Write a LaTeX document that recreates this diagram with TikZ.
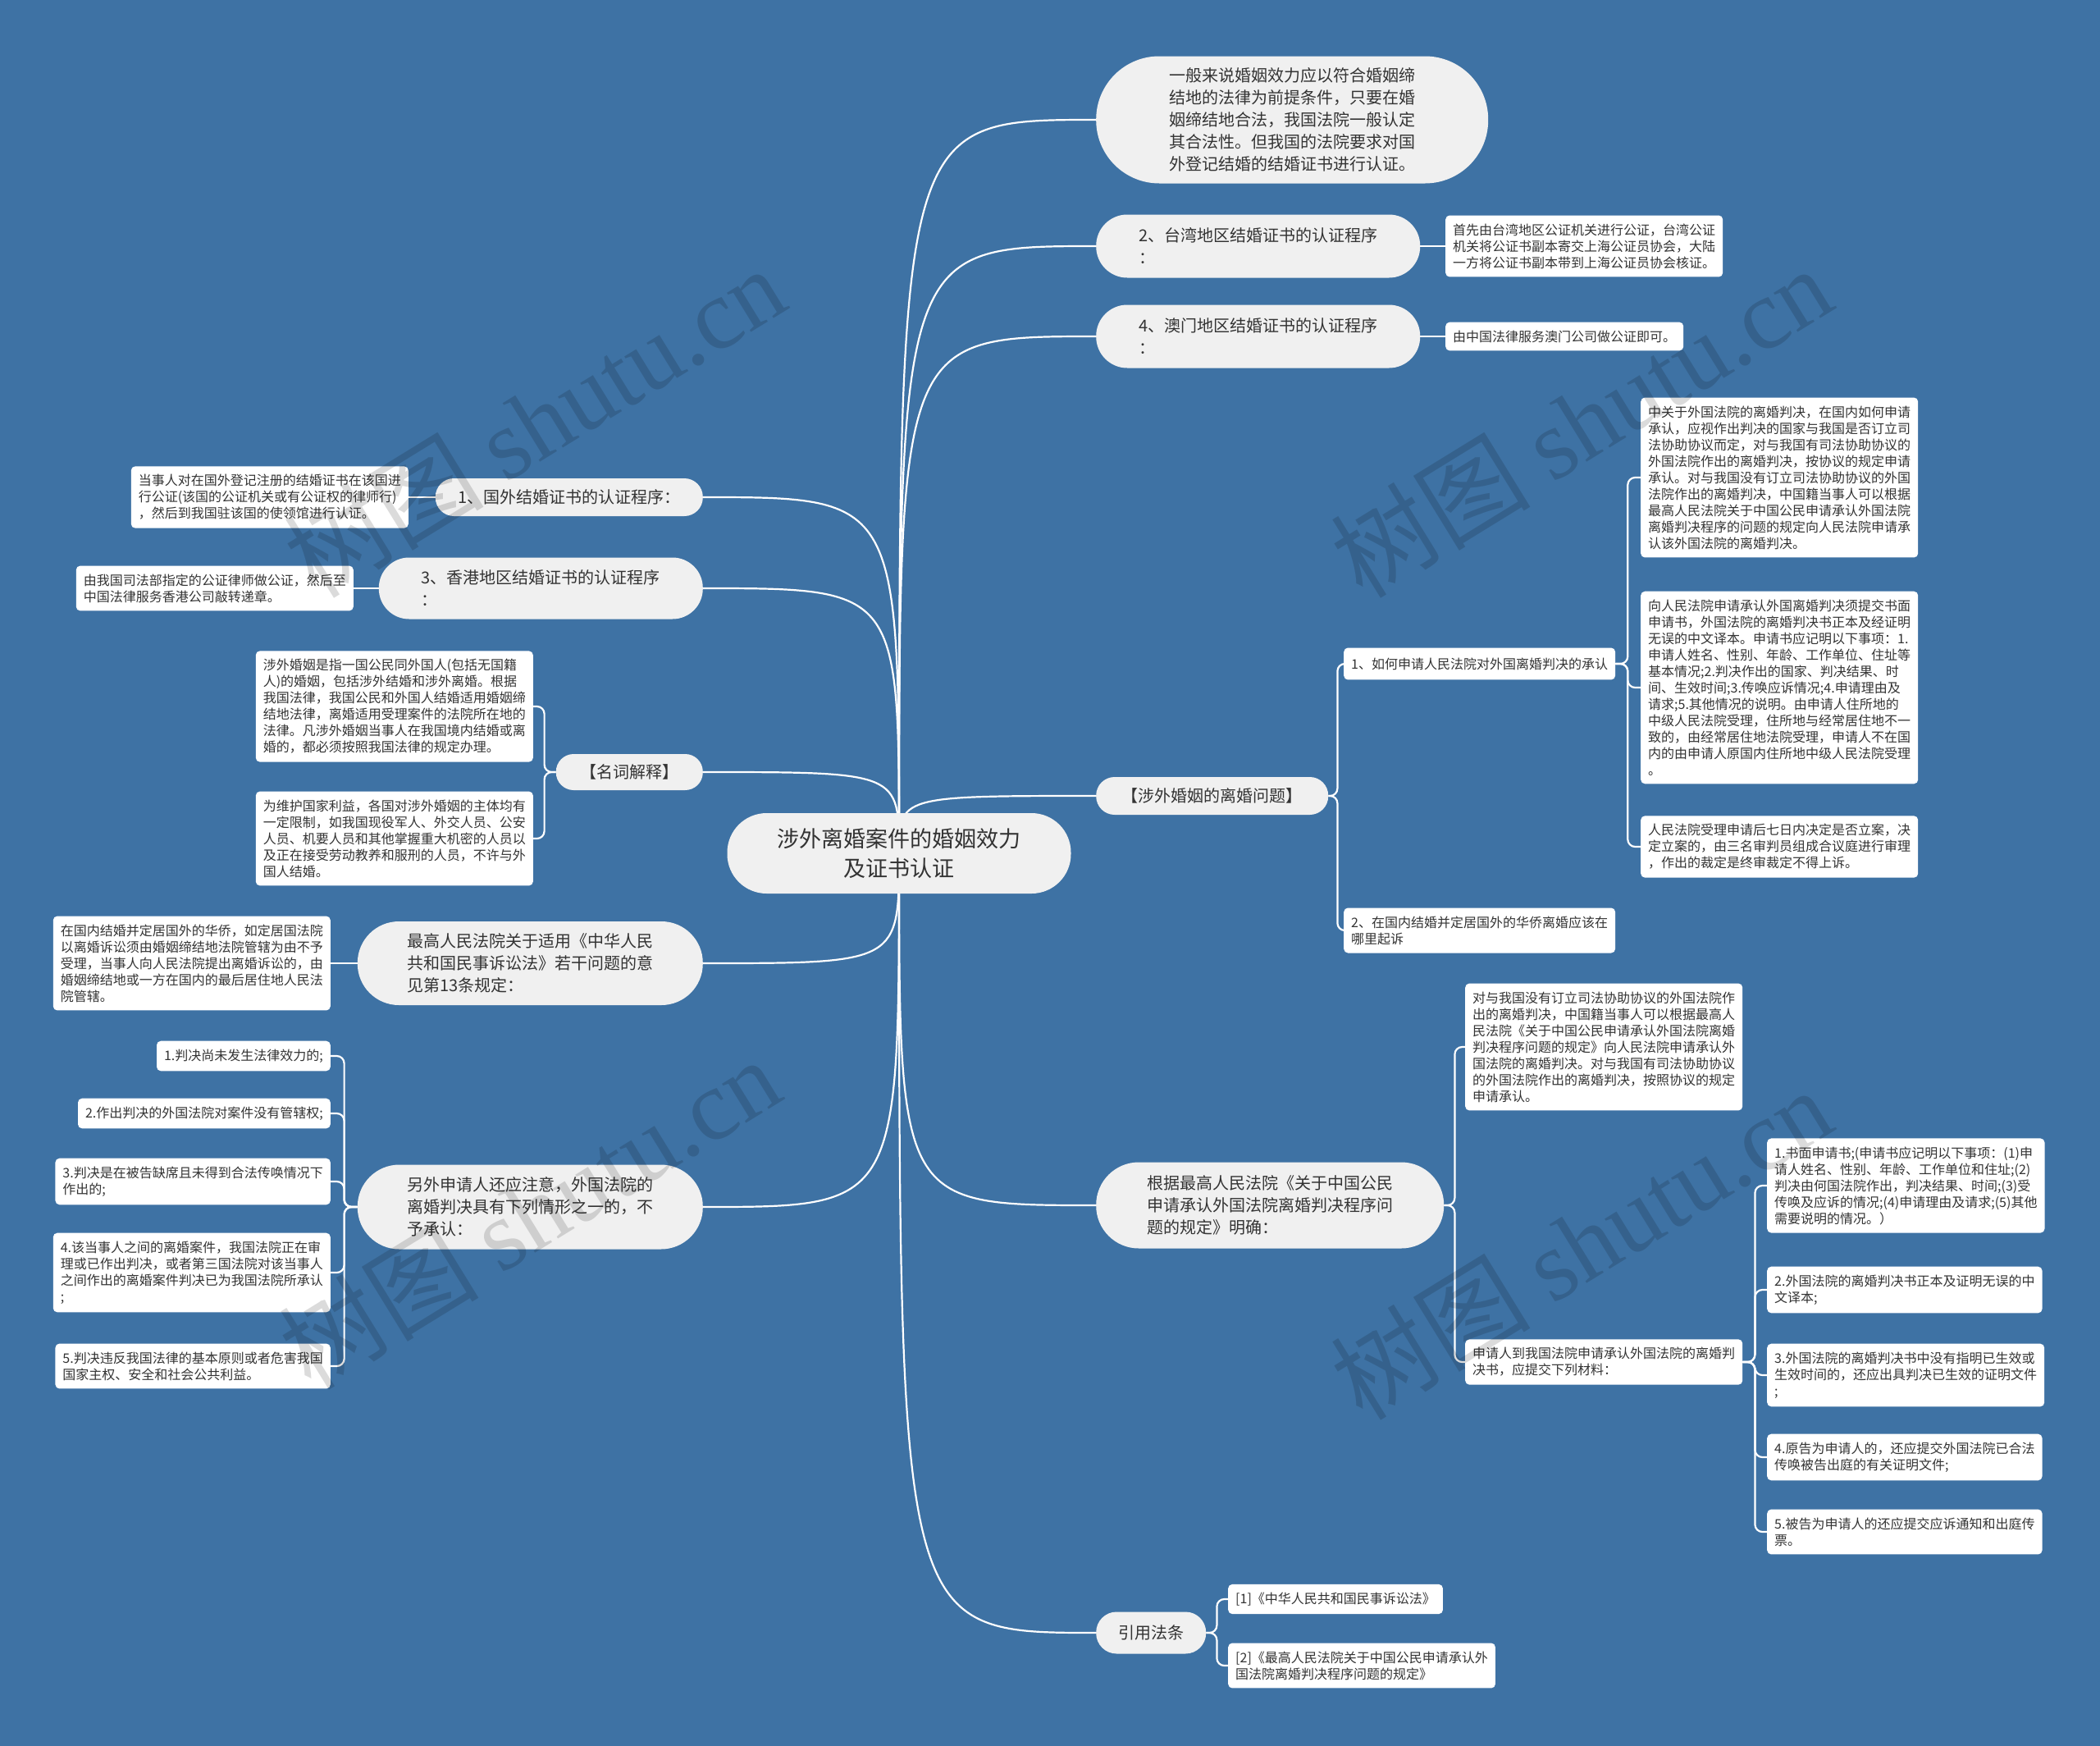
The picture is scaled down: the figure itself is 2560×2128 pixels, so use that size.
\documentclass[tikz,border=0pt]{standalone}
\usepackage{fontspec}
\setmainfont{Noto Sans CJK SC}
\newfontfamily\wmserif{Liberation Serif}
\newfontfamily\wmcjk{Noto Sans CJK SC}
\definecolor{bgblue}{HTML}{3E72A4}
\definecolor{pillgray}{HTML}{F0F0F0}
\definecolor{txt}{HTML}{333333}
\pgfdeclarelayer{bg}
\pgfsetlayers{bg,main}
\tikzset{
  rootnode/.style={fill=pillgray, text=txt, align=center, font={\fontsize{27}{36}\selectfont},
    minimum width=419, minimum height=98, rounded corners=48, inner sep=0},
  pill/.style n args={2}{fill=pillgray, text=txt, align=left, font={\fontsize{20}{27}\selectfont},
    minimum width=#1, minimum height=#2, rounded corners=#2/2-0.5, inner sep=0},
  leaf/.style={fill=white, text=txt, align=left, font={\fontsize{16}{20}\selectfont},
    rounded corners=5, inner xsep=9, inner ysep=10},
  conn/.style={draw=white, line width=2.2pt},
  brk/.style={draw=white, line width=2.2pt, rounded corners=9},
  wm/.style={text=black, text opacity=0.14, rotate=31.6, font={\fontsize{122}{122}\selectfont}, inner sep=0}
}
\begin{document}
\begin{tikzpicture}[x=1pt,y=-1pt]
\useasboundingbox (0,0) rectangle (2560,2128);
\begin{pgfonlayer}{bg}
\fill[bgblue] (0,0) rectangle (2560,2128);
\end{pgfonlayer}

% root
\node[rootnode] (root) at (1096,1040) {涉外离婚案件的婚姻效力\\及证书认证};

% right branches
\node[pill={478}{155}, anchor=west] (r1) at (1336,146) {一般来说婚姻效力应以符合婚姻缔\\结地的法律为前提条件，只要在婚\\姻缔结地合法，我国法院一般认定\\其合法性。但我国的法院要求对国\\外登记结婚的结婚证书进行认证。};
\node[pill={395}{77}, anchor=west] (r2) at (1336,300) {2、台湾地区结婚证书的认证程序\\：};
\node[pill={395}{77}, anchor=west] (r3) at (1336,410) {4、澳门地区结婚证书的认证程序\\：};
\node[pill={283}{46}, anchor=west] (r4) at (1336,970) {【涉外婚姻的离婚问题】};
\node[pill={424}{105}, anchor=west] (r5) at (1336,1469) {根据最高人民法院《关于中国公民\\申请承认外国法院离婚判决程序问\\题的规定》明确：};
\node[pill={134}{51}, anchor=west] (r6) at (1336,1990) {引用法条};

% left branches
\node[pill={326}{46}, anchor=east] (l1) at (857,606) {1、国外结婚证书的认证程序：};
\node[pill={395}{75}, anchor=east] (l2) at (857,717) {3、香港地区结婚证书的认证程序\\：};
\node[pill={179}{44}, anchor=east] (l3) at (857,941) {【名词解释】};
\node[pill={421}{102}, anchor=east] (l4) at (857,1174) {最高人民法院关于适用《中华人民\\共和国民事诉讼法》若干问题的意\\见第13条规定：};
\node[pill={421}{103}, anchor=east] (l5) at (857,1471) {另外申请人还应注意，外国法院的\\离婚判决具有下列情形之一的，不\\予承认：};

% right leaves
\node[leaf, anchor=west] (r2a) at (1762,300) {首先由台湾地区公证机关进行公证，台湾公证\\机关将公证书副本寄交上海公证员协会，大陆\\一方将公证书副本带到上海公证员协会核证。};
\node[leaf, anchor=west] (r3a) at (1762,410) {由中国法律服务澳门公司做公证即可。};
\node[leaf, anchor=west, inner ysep=12] (q1) at (1638,809) {1、如何申请人民法院对外国离婚判决的承认};
\node[leaf, anchor=west] (q2) at (1638,1134) {2、在国内结婚并定居国外的华侨离婚应该在\\哪里起诉};
\node[leaf, anchor=west] (q1a) at (2000,582) {中关于外国法院的离婚判决，在国内如何申请\\承认，应视作出判决的国家与我国是否订立司\\法协助协议而定，对与我国有司法协助协议的\\外国法院作出的离婚判决，按协议的规定申请\\承认。对与我国没有订立司法协助协议的外国\\法院作出的离婚判决，中国籍当事人可以根据\\最高人民法院关于中国公民申请承认外国法院\\离婚判决程序的问题的规定向人民法院申请承\\认该外国法院的离婚判决。};
\node[leaf, anchor=west] (q1b) at (2000,838) {向人民法院申请承认外国离婚判决须提交书面\\申请书，外国法院的离婚判决书正本及经证明\\无误的中文译本。申请书应记明以下事项：1.\\申请人姓名、性别、年龄、工作单位、住址等\\基本情况;2.判决作出的国家、判决结果、时\\间、生效时间;3.传唤应诉情况;4.申请理由及\\请求;5.其他情况的说明。由申请人住所地的\\中级人民法院受理，住所地与经常居住地不一\\致的，由经常居住地法院受理，申请人不在国\\内的由申请人原国内住所地中级人民法院受理\\。};
\node[leaf, anchor=west] (q1c) at (2000,1032) {人民法院受理申请后七日内决定是否立案，决\\定立案的，由三名审判员组成合议庭进行审理\\，作出的裁定是终审裁定不得上诉。};
\node[leaf, anchor=west] (r5a) at (1786,1276) {对与我国没有订立司法协助协议的外国法院作\\出的离婚判决，中国籍当事人可以根据最高人\\民法院《关于中国公民申请承认外国法院离婚\\判决程序问题的规定》向人民法院申请承认外\\国法院的离婚判决。对与我国有司法协助协议\\的外国法院作出的离婚判决，按照协议的规定\\申请承认。};
\node[leaf, anchor=west] (r5b) at (1786,1660) {申请人到我国法院申请承认外国法院的离婚判\\决书，应提交下列材料：};
\node[leaf, anchor=west] (e1) at (2154,1445) {1.书面申请书;(申请书应记明以下事项：(1)申\\请人姓名、性别、年龄、工作单位和住址;(2)\\判决由何国法院作出，判决结果、时间;(3)受\\传唤及应诉的情况;(4)申请理由及请求;(5)其他\\需要说明的情况。）};
\node[leaf, anchor=west] (e2) at (2154,1572) {2.外国法院的离婚判决书正本及证明无误的中\\文译本;};
\node[leaf, anchor=west] (e3) at (2154,1676) {3.外国法院的离婚判决书中没有指明已生效或\\生效时间的，还应出具判决已生效的证明文件\\;};
\node[leaf, anchor=west] (e4) at (2154,1776) {4.原告为申请人的，还应提交外国法院已合法\\传唤被告出庭的有关证明文件;};
\node[leaf, anchor=west] (e5) at (2154,1867) {5.被告为申请人的还应提交应诉通知和出庭传\\票。};
\node[leaf, anchor=west] (r6a) at (1497,1949) {[1]《中华人民共和国民事诉讼法》};
\node[leaf, anchor=west] (r6b) at (1497,2030) {[2]《最高人民法院关于中国公民申请承认外\\国法院离婚判决程序问题的规定》};

% left leaves
\node[leaf, anchor=east] (l1a) at (498,606) {当事人对在国外登记注册的结婚证书在该国进\\行公证(该国的公证机关或有公证权的律师行)\\，然后到我国驻该国的使领馆进行认证。};
\node[leaf, anchor=east] (l2a) at (431,717) {由我国司法部指定的公证律师做公证，然后至\\中国法律服务香港公司敲转递章。};
\node[leaf, anchor=east] (l3a) at (650,861) {涉外婚姻是指一国公民同外国人(包括无国籍\\人)的婚姻，包括涉外结婚和涉外离婚。根据\\我国法律，我国公民和外国人结婚适用婚姻缔\\结地法律，离婚适用受理案件的法院所在地的\\法律。凡涉外婚姻当事人在我国境内结婚或离\\婚的，都必须按照我国法律的规定办理。};
\node[leaf, anchor=east] (l3b) at (650,1022) {为维护国家利益，各国对涉外婚姻的主体均有\\一定限制，如我国现役军人、外交人员、公安\\人员、机要人员和其他掌握重大机密的人员以\\及正在接受劳动教养和服刑的人员，不许与外\\国人结婚。};
\node[leaf, anchor=east] (l4a) at (403,1174) {在国内结婚并定居国外的华侨，如定居国法院\\以离婚诉讼须由婚姻缔结地法院管辖为由不予\\受理，当事人向人民法院提出离婚诉讼的，由\\婚姻缔结地或一方在国内的最后居住地人民法\\院管辖。};
\node[leaf, anchor=east] (l5a) at (403,1287) {1.判决尚未发生法律效力的;};
\node[leaf, anchor=east] (l5b) at (403,1357) {2.作出判决的外国法院对案件没有管辖权;};
\node[leaf, anchor=east] (l5c) at (403,1440) {3.判决是在被告缺席且未得到合法传唤情况下\\作出的;};
\node[leaf, anchor=east] (l5d) at (403,1551) {4.该当事人之间的离婚案件，我国法院正在审\\理或已作出判决，或者第三国法院对该当事人\\之间作出的离婚案件判决已为我国法院所承认\\;};
\node[leaf, anchor=east] (l5e) at (403,1665) {5.判决违反我国法律的基本原则或者危害我国\\国家主权、安全和社会公共利益。};

\begin{pgfonlayer}{bg}
% root connectors
\foreach \t in {r1,r2,r3,r4,r5,r6}
  \draw[conn] (root.center) .. controls (root.center |- \t.west) .. (\t.west);
\foreach \t in {l1,l2,l3,l4,l5}
  \draw[conn] (root.center) .. controls (root.center |- \t.east) .. (\t.east);
% right leaf connectors
\draw[conn] (r2.east) -- (r2a.west);
\draw[conn] (r3.east) -- (r3a.west);
\foreach \c in {q1,q2} \draw[brk] (r4.east) -- ++(11,0) |- (\c.west);
\foreach \c in {q1a,q1b,q1c} \draw[brk] (q1.east) -- ++(15,0) |- (\c.west);
\foreach \c in {r5a,r5b} \draw[brk] (r5.east) -- ++(13,0) |- (\c.west);
\foreach \c in {e1,e2,e3,e4,e5} \draw[brk] (r5b.east) -- ++(15,0) |- (\c.west);
\foreach \c in {r6a,r6b} \draw[brk] (r6.east) -- ++(13,0) |- (\c.west);
% left leaf connectors
\draw[conn] (l1.west) -- (l1a.east);
\draw[conn] (l2.west) -- (l2a.east);
\draw[conn] (l4.west) -- (l4a.east);
\foreach \c in {l3a,l3b} \draw[brk] (l3.west) -- ++(-14,0) |- (\c.east);
\foreach \c in {l5a,l5b,l5c,l5d,l5e} \draw[brk] (l5.west) -- ++(-16,0) |- (\c.east);
\end{pgfonlayer}

% watermarks
\node[wm] (w1) at (651,514) {\wmcjk 树图 \wmserif shutu.cn};
\node[wm] (w2) at (1927,514) {\wmcjk 树图 \wmserif shutu.cn};
\node[wm] (w3) at (645,1478) {\wmcjk 树图 \wmserif shutu.cn};
\node[wm] (w4) at (1927,1515) {\wmcjk 树图 \wmserif shutu.cn};
\end{tikzpicture}
\end{document}
